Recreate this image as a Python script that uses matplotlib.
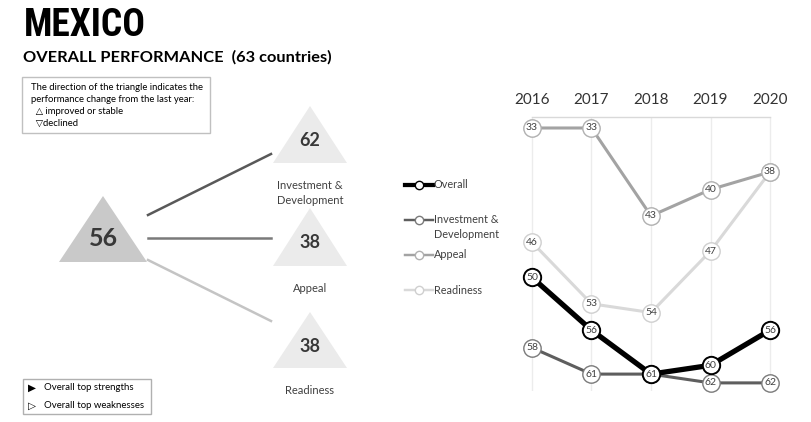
import matplotlib
matplotlib.use("Agg")
import matplotlib.pyplot as plt
from matplotlib.patches import Polygon, Rectangle
from matplotlib.lines import Line2D
import matplotlib.font_manager as fm

# ---------------- data ----------------
country = "MEXICO"
n_countries = 63
years = [2016, 2017, 2018, 2019, 2020]
overall = [50, 56, 61, 60, 56]
investment = [58, 61, 61, 62, 62]
appeal = [33, 33, 43, 40, 38]
readiness = [46, 53, 54, 47, 38]
factor_names = ["Investment &\nDevelopment", "Appeal", "Readiness"]
legend_names = ["Overall", "Investment &\nDevelopment", "Appeal", "Readiness"]

names = {f.name for f in fm.fontManager.ttflist}
BASE = "Lato" if "Lato" in names else "DejaVu Sans"
TITLE, TSIZE = BASE, 24
for cand in ["Liberation Sans Narrow", "Roboto Condensed", "Open Sans Condensed",
             "DejaVu Sans Condensed"]:
    if cand in names:
        TITLE, TSIZE = cand, 27
        break
plt.rcParams['font.family'] = [BASE, 'DejaVu Sans']

TXT = "#404040"
W, H = 812, 422
fig = plt.figure(figsize=(W / 100, H / 100), dpi=100)

# background axes in pixel coordinates
bg = fig.add_axes([0, 0, 1, 1])
bg.set_xlim(0, W)
bg.set_ylim(H, 0)
bg.axis("off")

# titles
bg.text(24, 26, country, fontsize=TSIZE, fontweight="bold", family=[TITLE, 'DejaVu Sans'],
        color="black", va="center", ha="left")
bg.text(23, 57, f"OVERALL PERFORMANCE  ({n_countries} countries)", fontsize=11.8,
        fontweight="bold", color="black", va="center", ha="left")

# explanation box
bg.add_patch(Rectangle((22, 77), 188, 56, fill=False, ec="#c0c0c0", lw=1))
box_lines = ["The direction of the triangle indicates the",
             "performance change from the last year:",
             "  \u25b3 improved or stable",
             "  \u25bddeclined"]
for i, t in enumerate(box_lines):
    bg.text(31, 87 + i * 12, t, fontsize=6.8, color="black", va="center", ha="left",
            family=[BASE, 'DejaVu Sans'])

# bottom legend box
bg.add_patch(Rectangle((23, 379), 128, 35, fill=False, ec="#b0b0b0", lw=1))
bg.text(28, 388, "\u25b6", fontsize=7.5, color="black", va="center", ha="left",
        family=['DejaVu Sans'])
bg.text(44, 388, "Overall top strengths", fontsize=6.9, color="black", va="center")
bg.text(28, 406, "\u25b7", fontsize=7.5, color="black", va="center", ha="left",
        family=['DejaVu Sans'])
bg.text(44, 406, "Overall top weaknesses", fontsize=6.9, color="black", va="center")


def tri(cx, top, bottom, half, color, up=True):
    if up:
        pts = [(cx, top), (cx - half, bottom), (cx + half, bottom)]
    else:
        pts = [(cx - half, top), (cx + half, top), (cx, bottom)]
    bg.add_patch(Polygon(pts, closed=True, fc=color, ec="none"))


# main triangle
cur = overall[-1]
tri(103, 196, 262, 44, "#c9c9c9", up=overall[-1] <= overall[-2])
bg.text(103, 238, str(cur), fontsize=18, fontweight="bold", color="#383838",
        ha="center", va="center")

# factor triangles
series = [investment, appeal, readiness]
tri_tops = [106, 208, 312]
tri_bots = [163, 266, 368]
label_y = [193, 288, 391]
conn_colors = ["#595959", "#7a7a7a", "#c4c4c4"]
conn_start = [215, 238, 260]
conn_end = [154, 238, 321]
for s, tt, tb, ly, cc, cs, ce, nm in zip(series, tri_tops, tri_bots, label_y,
                                         conn_colors, conn_start, conn_end, factor_names):
    tri(310, tt, tb, 37, "#ebebeb", up=s[-1] <= s[-2])
    bg.text(310, (tt + tb) / 2 + 6, str(s[-1]), fontsize=13, fontweight="bold",
            color="#383838", ha="center", va="center")
    bg.text(310, ly, nm, fontsize=8, color=TXT, ha="center", va="center", linespacing=1.45)
    bg.add_line(Line2D([148, 271], [cs, ce], color=cc, lw=1.8))

# line chart styles
styles = {
    "Overall": dict(color="black", lw=3.8, mec="black", mew=1.4, z=6),
    "Investment &\nDevelopment": dict(color="#5e5e5e", lw=2.2, mec="#7a7a7a", mew=1.0, z=5),
    "Appeal": dict(color="#a3a3a3", lw=2.2, mec="#b0b0b0", mew=1.0, z=4),
    "Readiness": dict(color="#d9d9d9", lw=2.2, mec="#cfcfcf", mew=1.0, z=3),
}

# legend (manual)
leg_y = [185, 220, 255, 290]
for nm, y in zip(legend_names, leg_y):
    st = styles[nm]
    bg.add_line(Line2D([405, 433], [y, y], color=st["color"], lw=st["lw"] * 0.8))
    bg.add_line(Line2D([419], [y], marker="o", ms=6, mfc="white",
                       mec=st["mec"] if nm != "Overall" else "black", mew=1.0, ls="none"))
    bg.text(434, y if "\n" not in nm else y + 7, nm, fontsize=7.8, color=TXT, ha="left",
            va="center", linespacing=1.5)

# line chart axes
ax = fig.add_axes([517.1 / W, 1 - 390.8 / H, 267.8 / W, (390.8 - 117) / H])
ax.set_xlim(2015.75, 2020.25)
ax.set_ylim(62.9, 31.75)
ax.patch.set_alpha(0)
for sp in ["left", "right", "bottom"]:
    ax.spines[sp].set_visible(False)
ax.spines["top"].set_bounds(2016, 2020)
ax.spines["top"].set_color("#d9d9d9")
ax.spines["top"].set_linewidth(1)
ax.xaxis.tick_top()
ax.set_xticks(years)
ax.set_xticklabels([str(y) for y in years])
ax.tick_params(axis="x", length=0, pad=7, labelsize=11, labelcolor="#333333")
ax.set_yticks([])
ax.grid(axis="x", color="#ececec", lw=1)
ax.set_axisbelow(True)

for nm, data in [("Readiness", readiness), ("Appeal", appeal),
                 ("Investment &\nDevelopment", investment), ("Overall", overall)]:
    st = styles[nm]
    ax.plot(years, data, color=st["color"], lw=st["lw"], marker="o", ms=12.5,
            mfc="white", mec=st["mec"], mew=st["mew"], zorder=st["z"], clip_on=False)
    for x, v in zip(years, data):
        ax.text(x, v, str(v), fontsize=7.5, color=TXT, ha="center", va="center",
                zorder=st["z"] + 0.5, clip_on=False)

fig.savefig("out.png", dpi=100)
